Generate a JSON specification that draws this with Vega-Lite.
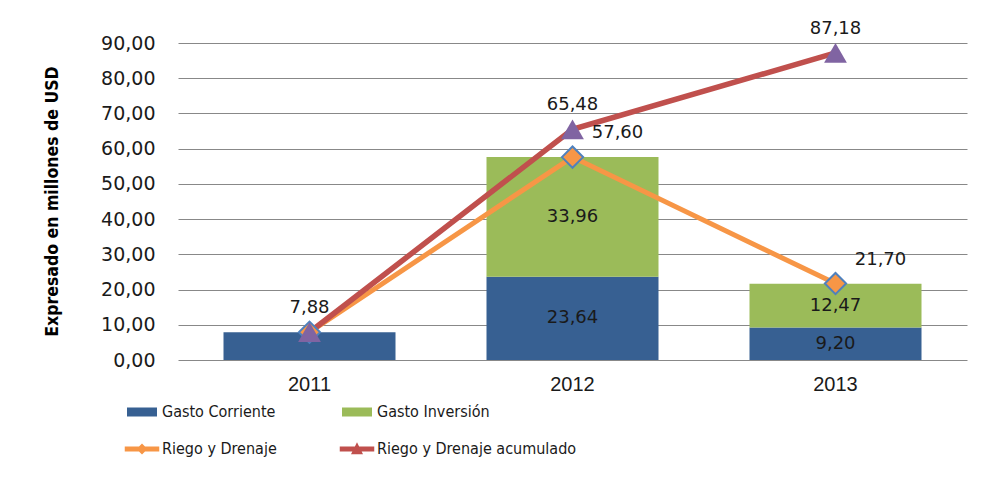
{
  "$schema": "https://vega.github.io/schema/vega-lite/v6.json",
  "width": 789,
  "height": 317,
  "autosize": {"type": "none"},
  "padding": {"left": 178, "top": 43, "right": 28, "bottom": 120},
  "background": "white",
  "config": {
    "locale": {"number": {"decimal": ",", "thousands": ".", "grouping": [3], "currency": ["", " $"]}},
    "view": {"stroke": null},
    "text": {"font": "DejaVu Sans", "fontSize": 18, "color": "#1a1a1a"},
    "axisY": {
      "grid": true, "gridColor": "#888888", "gridWidth": 1,
      "domain": false, "ticks": false, "labelOverlap": false,
      "labelPadding": 23, "labelFont": "DejaVu Sans", "labelFontSize": 19, "labelColor": "#1a1a1a",
      "titleFont": "DejaVu Sans Condensed", "titleFontSize": 17.5, "titleFontWeight": "bold", "titleColor": "#000000",
      "titleX": -126, "titleY": 158, "titleAngle": -90, "titleAlign": "center", "titleBaseline": "middle"
    }
  },
  "data": {"values": [
    {"year": "2011", "serie": "Gasto Corriente", "value": 7.88},
    {"year": "2012", "serie": "Gasto Corriente", "value": 23.64},
    {"year": "2013", "serie": "Gasto Corriente", "value": 9.20},
    {"year": "2012", "serie": "Gasto Inversión", "value": 33.96},
    {"year": "2013", "serie": "Gasto Inversión", "value": 12.47},
    {"year": "2011", "serie": "Riego y Drenaje", "value": 7.88},
    {"year": "2012", "serie": "Riego y Drenaje", "value": 57.60},
    {"year": "2013", "serie": "Riego y Drenaje", "value": 21.70},
    {"year": "2011", "serie": "Riego y Drenaje acumulado", "value": 7.88},
    {"year": "2012", "serie": "Riego y Drenaje acumulado", "value": 65.48},
    {"year": "2013", "serie": "Riego y Drenaje acumulado", "value": 87.18}
  ]},
  "encoding": {
    "x": {
      "field": "year", "type": "nominal",
      "scale": {"paddingInner": 0.346, "paddingOuter": 0.173},
      "axis": {"title": null, "labelAngle": 0, "domain": false, "ticks": false, "grid": false,
               "labelPadding": 14, "labelFont": "Liberation Sans", "labelFontSize": 20, "labelColor": "#1a1a1a"}
    },
    "y": {
      "field": "value", "type": "quantitative",
      "title": "Expresado en millones de USD",
      "scale": {"domain": [0, 90], "nice": false},
      "axis": {"values": [0, 10, 20, 30, 40, 50, 60, 70, 80, 90], "format": ".2f"}
    }
  },
  "layer": [
    {
      "transform": [{"filter": {"field": "serie", "oneOf": ["Gasto Corriente", "Gasto Inversión"]}}],
      "mark": {"type": "bar"},
      "encoding": {
        "y": {
          "field": "value", "type": "quantitative", "stack": "zero",
          "title": "Expresado en millones de USD",
          "scale": {"domain": [0, 90], "nice": false},
          "axis": {"values": [0, 10, 20, 30, 40, 50, 60, 70, 80, 90], "format": ".2f"}
        },
        "color": {
          "field": "serie", "type": "nominal",
          "scale": {
            "domain": ["Gasto Corriente", "Gasto Inversión", "Riego y Drenaje", "Riego y Drenaje acumulado"],
            "range": ["#376092", "#9BBB59", "#F79646", "#C0504D"]
          },
          "legend": {
            "title": null, "orient": "none", "legendX": -51, "legendY": 354,
            "direction": "horizontal", "columns": 2, "columnPadding": 62, "rowPadding": 14,
            "padding": 0, "symbolSize": 900, "symbolStrokeWidth": 0,
            "labelFont": "DejaVu Sans Condensed",
            "labelFontSize": 16, "labelColor": "#1a1a1a", "labelOffset": 5, "labelLimit": 400,
            "encode": {
              "symbols": {
                "update": {
                  "shape": {"signal": "datum.value === 'Riego y Drenaje' ? 'M-1.15,-0.17H-0.2L0,-0.37L0.2,-0.17H1.15V0.17H0.2L0,0.37L-0.2,0.17H-1.15Z' : datum.value === 'Riego y Drenaje acumulado' ? 'M-1.15,-0.17H-0.14L0,-0.45L0.14,-0.17H1.15V0.17H0.31L0.4,0.35H-0.4L-0.31,0.17H-1.15Z' : 'M-1,-0.3H1V0.3H-1Z'"}
                }
              }
            }
          }
        },
        "order": {"field": "serie", "sort": "ascending"}
      }
    },
    {
      "transform": [{"filter": {"field": "serie", "equal": "Riego y Drenaje"}}],
      "mark": {"type": "line", "color": "#F79646", "strokeWidth": 5}
    },
    {
      "transform": [{"filter": {"field": "serie", "equal": "Riego y Drenaje acumulado"}}],
      "mark": {"type": "line", "color": "#C0504D", "strokeWidth": 5.5}
    },
    {
      "transform": [{"filter": {"field": "serie", "equal": "Riego y Drenaje"}}],
      "mark": {"type": "point", "shape": "diamond", "filled": true, "fill": "#F79646", "stroke": "#4F81BD", "strokeWidth": 2, "size": 450, "opacity": 1}
    },
    {
      "transform": [{"filter": {"field": "serie", "equal": "Riego y Drenaje acumulado"}}],
      "mark": {"type": "point", "shape": "triangle-up", "filled": true, "fill": "#8064A2", "strokeWidth": 0, "size": 520, "opacity": 1}
    },
    {
      "transform": [
        {"filter": {"field": "serie", "oneOf": ["Gasto Corriente", "Gasto Inversión"]}},
        {"filter": {"field": "year", "oneOf": ["2012", "2013"]}},
        {"stack": "value", "groupby": ["year"], "sort": [{"field": "serie", "order": "ascending"}], "as": ["v0", "v1"]},
        {"fold": ["v0", "v1"], "as": ["edge", "pos"]},
        {"aggregate": [{"op": "mean", "field": "pos", "as": "mid"}, {"op": "max", "field": "value", "as": "val"}], "groupby": ["year", "serie"]}
      ],
      "mark": {"type": "text", "baseline": "middle", "align": "center"},
      "encoding": {
        "y": {
          "field": "mid", "type": "quantitative",
          "title": "Expresado en millones de USD",
          "scale": {"domain": [0, 90], "nice": false},
          "axis": {"values": [0, 10, 20, 30, 40, 50, 60, 70, 80, 90], "format": ".2f"}
        },
        "text": {"field": "val", "type": "quantitative", "format": ".2f"}
      }
    },
    {
      "transform": [{"filter": {"field": "serie", "equal": "Riego y Drenaje acumulado"}}],
      "mark": {"type": "text", "baseline": "middle", "align": "center", "dy": -24},
      "encoding": {
        "text": {"field": "value", "type": "quantitative", "format": ".2f"}
      }
    },
    {
      "transform": [
        {"filter": {"field": "serie", "equal": "Riego y Drenaje"}},
        {"filter": {"field": "year", "oneOf": ["2012", "2013"]}}
      ],
      "mark": {"type": "text", "baseline": "middle", "align": "center", "dx": 45, "dy": -24},
      "encoding": {
        "text": {"field": "value", "type": "quantitative", "format": ".2f"}
      }
    }
  ]
}
